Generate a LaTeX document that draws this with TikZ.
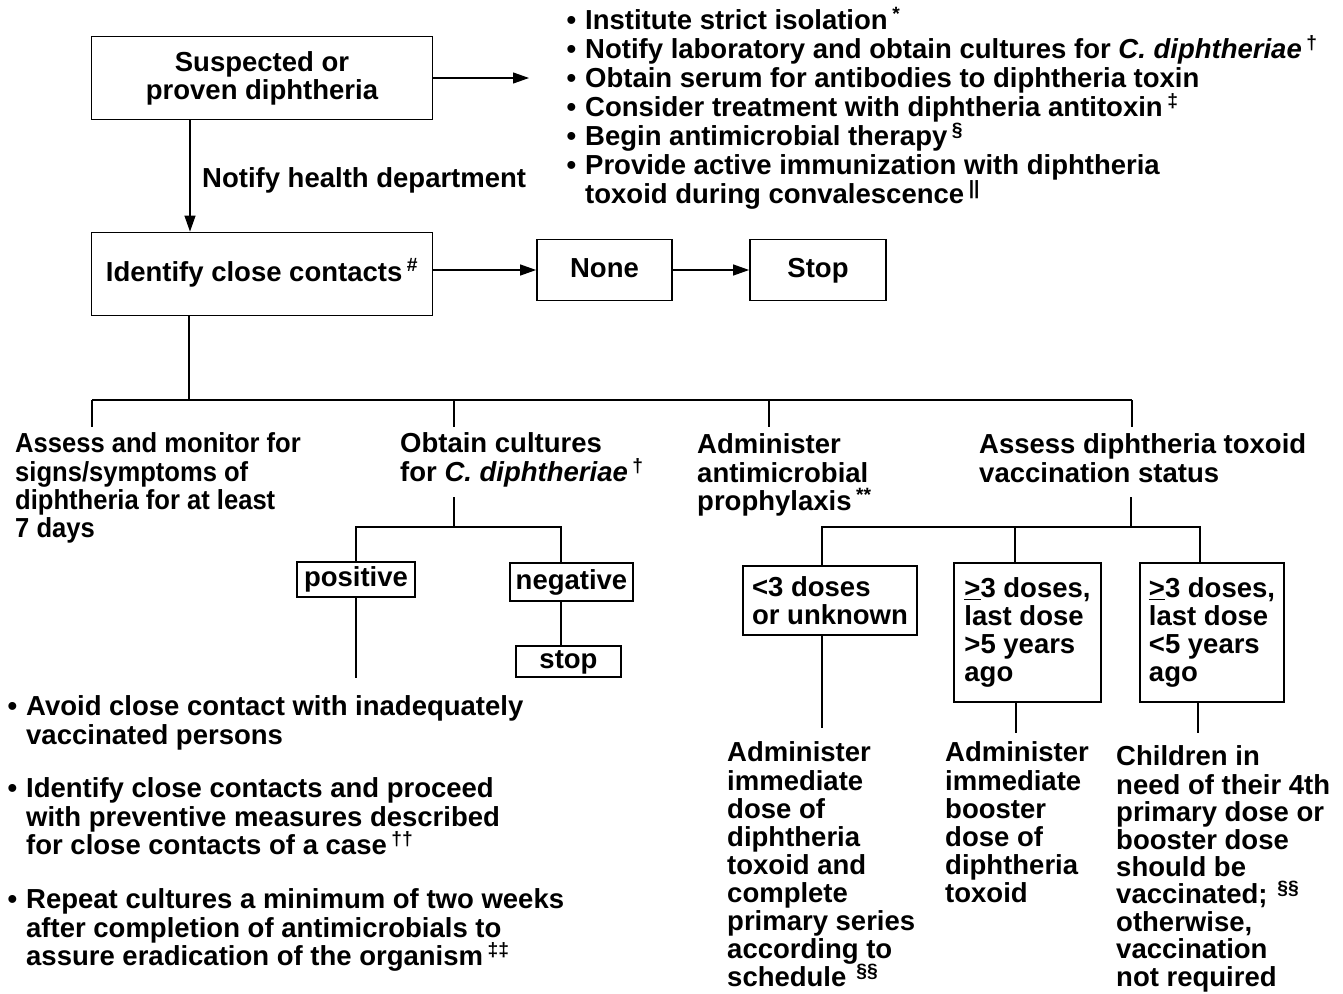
\documentclass[tikz,border=0pt]{standalone}
\usepackage{fontspec}
\setmainfont{Liberation Sans}
\newfontfamily\narrowf[FakeStretch=0.93]{Liberation Sans}
\usetikzlibrary{arrows.meta}
\newcommand\fs{\fontsize{27.5}{28}\selectfont\bfseries}
\newcommand\fst{\fontsize{27.5}{29}\selectfont\bfseries}
\newcommand\bul{\llap{•\hspace{9pt}}}
\newcommand\fn[1]{\smash{\,\textsuperscript{#1}}}
\begin{document}
\begin{tikzpicture}[x=1pt,y=-1pt,
  box/.style={draw,line width=1.8pt,inner sep=0pt,font=\fs},
  sbox/.style={box,text height=20pt,text depth=6pt},
  ln/.style={line width=1.2pt},
  arr/.style={ln,-{Triangle[length=16pt,width=11pt]}},
  txt/.style={inner sep=0pt,anchor=north west,align=left,font=\fs},
]
\useasboundingbox (0,0) rectangle (1343,993);

% top boxes
\node[box,minimum width=341pt,minimum height=83pt,align=center] (s1) at (262,78) {Suspected or\\proven diphtheria};
\node[sbox,minimum width=341pt,minimum height=83pt] (s2) at (262,274) {Identify close contacts\fn{\#}};
\node[sbox,minimum width=135pt,minimum height=61pt] (none) at (604.5,270) {None};
\node[sbox,minimum width=136pt,minimum height=61pt] (stop) at (818,270) {Stop};

\node[txt,font=\fst] (list) at (585,9) {\strut\bul Institute strict isolation\fn{*}\\
\bul Notify laboratory and obtain cultures for \textit{C. diphtheriae}\fn{†}\\
\bul Obtain serum for antibodies to diphtheria toxin\\
\bul Consider treatment with diphtheria antitoxin\fn{‡}\\
\bul Begin antimicrobial therapy\fn{§}\\
\bul Provide active immunization with diphtheria\\
toxoid during convalescence\fn{||}};

\coordinate (a1) at (529,78);
\draw[arr] (s1.east |- a1) -- (a1);
\draw[arr] (s1.south -| 190,0) -- (s2.north -| 190,0);
\node[inner sep=0pt,anchor=west,font=\fs] (notify) at (202,180) {Notify health department};
\draw[arr] (s2.east |- none.west) -- (none.west);
\draw[arr] (none.east) -- (stop.west);

% level 2
\node[txt,font=\fs\narrowf] (t1) at (15,432) {\strut Assess and monitor for\\signs/symptoms of\\diphtheria for at least\\7 days};
\node[txt] (t2) at (400,432) {\strut Obtain cultures\\for \textit{C. diphtheriae}\fn{†}};
\node[txt] (t3) at (697,433) {\strut Administer\\antimicrobial\\prophylaxis\fn{**}};
\node[txt] (t4) at (979,433) {\strut Assess diphtheria toxoid\\vaccination status};

\coordinate (j0) at (189,400);
\coordinate (jl) at (92,400);
\coordinate (jr) at (1132,400);
\draw[ln] (s2.south -| j0) -- (j0);
\draw[ln] (jl) -- (jr);
\draw[ln] (jl) -- (92,427);
\draw[ln] (454,400) -- (454,427);
\draw[ln] (769,400) -- (769,427);
\draw[ln] (jr) -- (1132,427);

% cultures branch
\node[sbox,minimum width=118pt,minimum height=35pt] (pos) at (356,579.5) {positive};
\node[sbox,minimum width=123pt,minimum height=38pt] (neg) at (571.5,582) {negative};
\node[sbox,minimum width=105pt,minimum height=31pt] (stop2) at (568.5,661.5) {stop};
\coordinate (c0) at (454,497);
\coordinate (c1) at (454,527);
\draw[ln] (c0) -- (c1);
\draw[ln] (pos.north) -- (pos.north |- c1) -- (561,527) -- (neg.north -| 561,0);
\draw[ln] (neg.south -| 561,0) -- (stop2.north -| 561,0);
\coordinate (pe) at (356,678);
\draw[ln] (pos.south) -- (pe);

% bottom-left bullets
\node[txt] (bl1) at (26,695) {\strut\bul Avoid close contact with inadequately\\vaccinated persons};
\node[txt] (bl2) at (26,777) {\strut\bul Identify close contacts and proceed\\with preventive measures described\\for close contacts of a case\fn{††}};
\node[txt] (bl3) at (26,888) {\strut\bul Repeat cultures a minimum of two weeks\\after completion of antimicrobials to\\assure eradication of the organism\fn{‡‡}};

% vaccination branch
\node[box,minimum width=174pt,minimum height=69pt,align=left] (b1) at (830,600.5) {<3 doses\\or unknown};
\node[box,minimum width=147pt,minimum height=139pt,align=left] (b2) at (1027.5,632.5) {\underline{>}3 doses,\\last dose\\>5 years\\ago};
\node[box,minimum width=144pt,minimum height=139pt,align=left] (b3) at (1212,632.5) {\underline{>}3 doses,\\last dose\\<5 years\\ago};
\coordinate (v0) at (1131,497);
\coordinate (v1) at (1131,527);
\draw[ln] (v0) -- (v1);
\draw[ln] (b1.north -| 822,0) -- (822,527) -- (1200,527) -- (b3.north -| 1200,0);
\draw[ln] (1015,527) -- (b2.north -| 1015,0);
\draw[ln] (b1.south -| 822,0) -- (822,728);
\draw[ln] (b2.south -| 1016,0) -- (1016,733);
\draw[ln] (b3.south -| 1198,0) -- (1198,733);

\node[txt] (c1t) at (727,741) {\strut Administer\\immediate\\dose of\\diphtheria\\toxoid and\\complete\\primary series\\according to\\schedule\fn{ §§}};
\node[txt] (c2t) at (945,741) {\strut Administer\\immediate\\booster\\dose of\\diphtheria\\toxoid};
\node[txt,font=\fontsize{27.5}{27.4}\selectfont\bfseries] (c3t) at (1116,745) {\strut Children in\\need of their 4th\\primary dose or\\booster dose\\should be\\vaccinated;\fn{ §§}\\otherwise,\\vaccination\\not required};
\end{tikzpicture}
\end{document}
